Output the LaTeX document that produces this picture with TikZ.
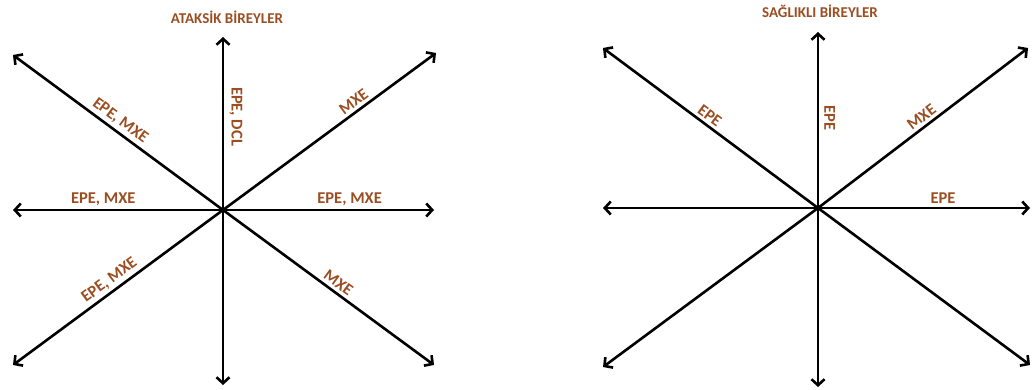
\documentclass[tikz,border=0pt]{standalone}
\usepackage{fontspec}
\setmainfont{Carlito}
\usetikzlibrary{arrows.meta}
\definecolor{labelbrown}{RGB}{155,78,34}
\begin{document}
\begin{tikzpicture}[x=1pt,y=-1pt,
  arr/.style={line width=2.6pt,-{Straight Barb[length=6pt,width=13pt]}},
  lbl/.style={text=labelbrown,font=\bfseries\fontsize{16.5}{16.5}\selectfont,inner sep=3pt},
  ttl/.style={text=labelbrown,font=\bfseries\fontsize{15}{15}\selectfont,inner sep=0pt}]
\useasboundingbox (0,0) rectangle (1032,390);
% ataksik bireyler
\coordinate (A) at (223,210);
\coordinate (An) at (223,37);\coordinate (As) at (223,385);
\coordinate (Aw) at (13,210);\coordinate (Ae) at (434,210);
\coordinate (Anw) at (13,55);\coordinate (Ane) at (436,53);
\coordinate (Asw) at (13,365);\coordinate (Ase) at (434,365);
\draw[arr] (A)--(An) node[lbl,pos=.54,rotate=-90,above,yshift=2pt] {EPE, DCL};
\draw[arr] (A)--(As);
\draw[arr] (A)--(Aw) node[lbl,pos=.57,above] {EPE, MXE};
\draw[arr] (A)--(Ae) node[lbl,pos=.6,above] {EPE, MXE};
\draw[arr] (A)--(Anw) node[lbl,pos=.52,sloped,above] {EPE, MXE};
\draw[arr] (A)--(Ane) node[lbl,pos=.64,sloped,above] {MXE};
\draw[arr] (A)--(Asw) node[lbl,pos=.51,sloped,above] {EPE, MXE};
\draw[arr] (A)--(Ase) node[lbl,pos=.52,sloped,above] {MXE};
\node[ttl] (Atitle) at (227,17) {ATAKSİK BİREYLER};
% sağlıklı bireyler
\coordinate (S) at (818,208);
\coordinate (Sn) at (818,32);\coordinate (Ss) at (818,387);
\coordinate (Sw) at (603,208);\coordinate (Se) at (1030,208);
\coordinate (Snw) at (603,48);\coordinate (Sne) at (1028,48);
\coordinate (Ssw) at (603,367);\coordinate (Sse) at (1030,365);
\draw[arr] (S)--(Sn) node[lbl,pos=.51,rotate=-90,above,yshift=2pt] {EPE};
\draw[arr] (S)--(Ss);
\draw[arr] (S)--(Sw);
\draw[arr] (S)--(Se) node[lbl,pos=.59,above] {EPE};
\draw[arr] (S)--(Snw) node[lbl,pos=.53,sloped,above] {EPE};
\draw[arr] (S)--(Sne) node[lbl,pos=.52,sloped,above] {MXE};
\draw[arr] (S)--(Ssw);
\draw[arr] (S)--(Sse);
\node[ttl] (Stitle) at (820,11) {SAĞLIKLI BİREYLER};
\end{tikzpicture}
\end{document}
